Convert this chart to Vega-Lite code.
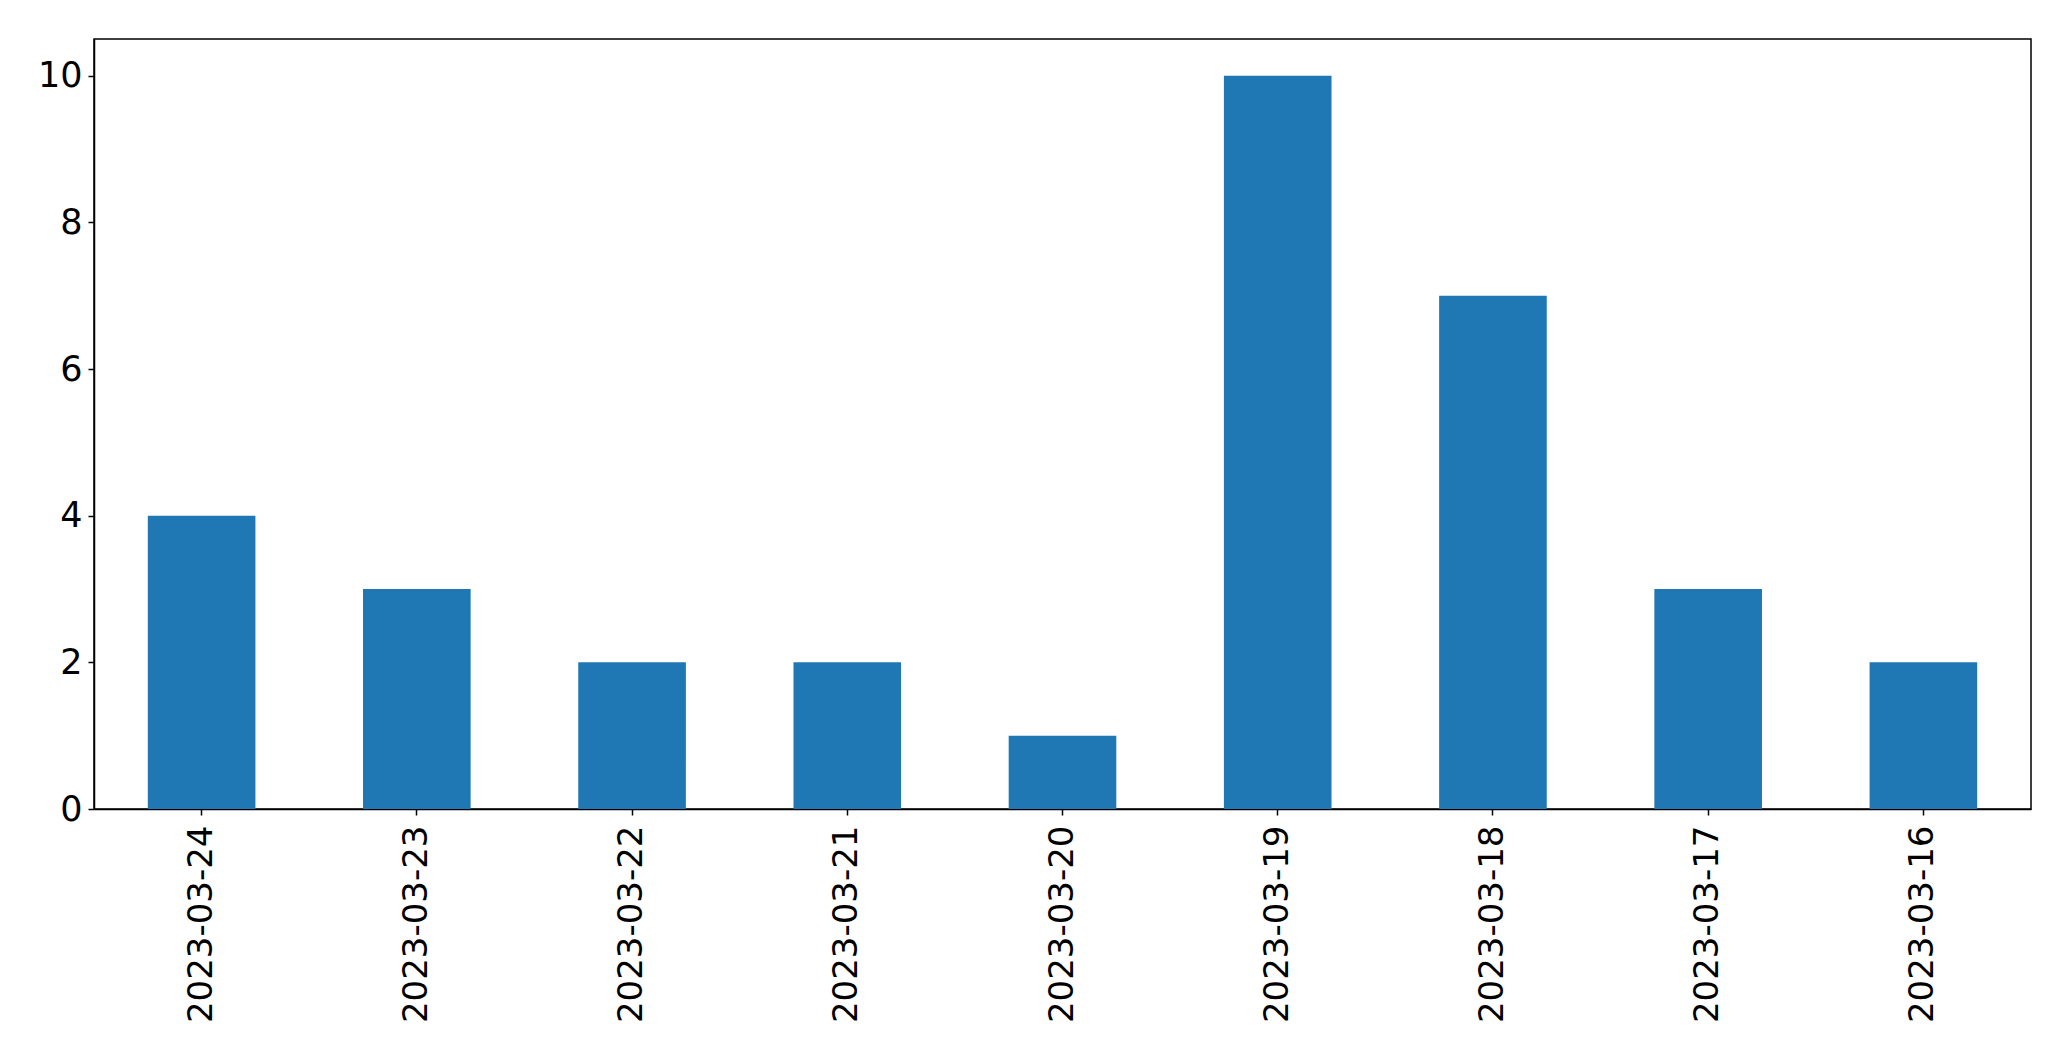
{
  "$schema": "https://vega.github.io/schema/vega-lite/v6.json",
  "autosize": {"type": "none"},
  "padding": {"left": 94, "top": 39, "right": 40, "bottom": 252},
  "width": 1937,
  "height": 770,
  "background": "white",
  "config": {
    "view": {"stroke": "black", "strokeWidth": 1.5},
    "font": "DejaVu Sans"
  },
  "data": {
    "values": [
      {"date": "2023-03-24", "count": 4},
      {"date": "2023-03-23", "count": 3},
      {"date": "2023-03-22", "count": 2},
      {"date": "2023-03-21", "count": 2},
      {"date": "2023-03-20", "count": 1},
      {"date": "2023-03-19", "count": 10},
      {"date": "2023-03-18", "count": 7},
      {"date": "2023-03-17", "count": 3},
      {"date": "2023-03-16", "count": 2}
    ]
  },
  "mark": {"type": "bar", "color": "#1f77b4"},
  "encoding": {
    "x": {
      "field": "date",
      "type": "nominal",
      "sort": null,
      "scale": {"paddingInner": 0.5, "paddingOuter": 0.25},
      "axis": {
        "title": null,
        "labelAngle": 270,
        "labelAlign": "right",
        "labelBaseline": "middle",
        "labelFontSize": 34,
        "labelLimit": 0,
        "labelColor": "black",
        "labelPadding": 10,
        "tickColor": "black",
        "tickSize": 6,
        "tickWidth": 1.5,
        "domainColor": "black",
        "domainWidth": 1.5,
        "grid": false
      }
    },
    "y": {
      "field": "count",
      "type": "quantitative",
      "scale": {"domain": [0, 10.5], "nice": false},
      "axis": {
        "title": null,
        "values": [0, 2, 4, 6, 8, 10],
        "labelFontSize": 35,
        "labelColor": "black",
        "labelPadding": 6,
        "tickColor": "black",
        "tickSize": 6,
        "tickWidth": 1.5,
        "domainColor": "black",
        "domainWidth": 1.5,
        "grid": false
      }
    }
  }
}
